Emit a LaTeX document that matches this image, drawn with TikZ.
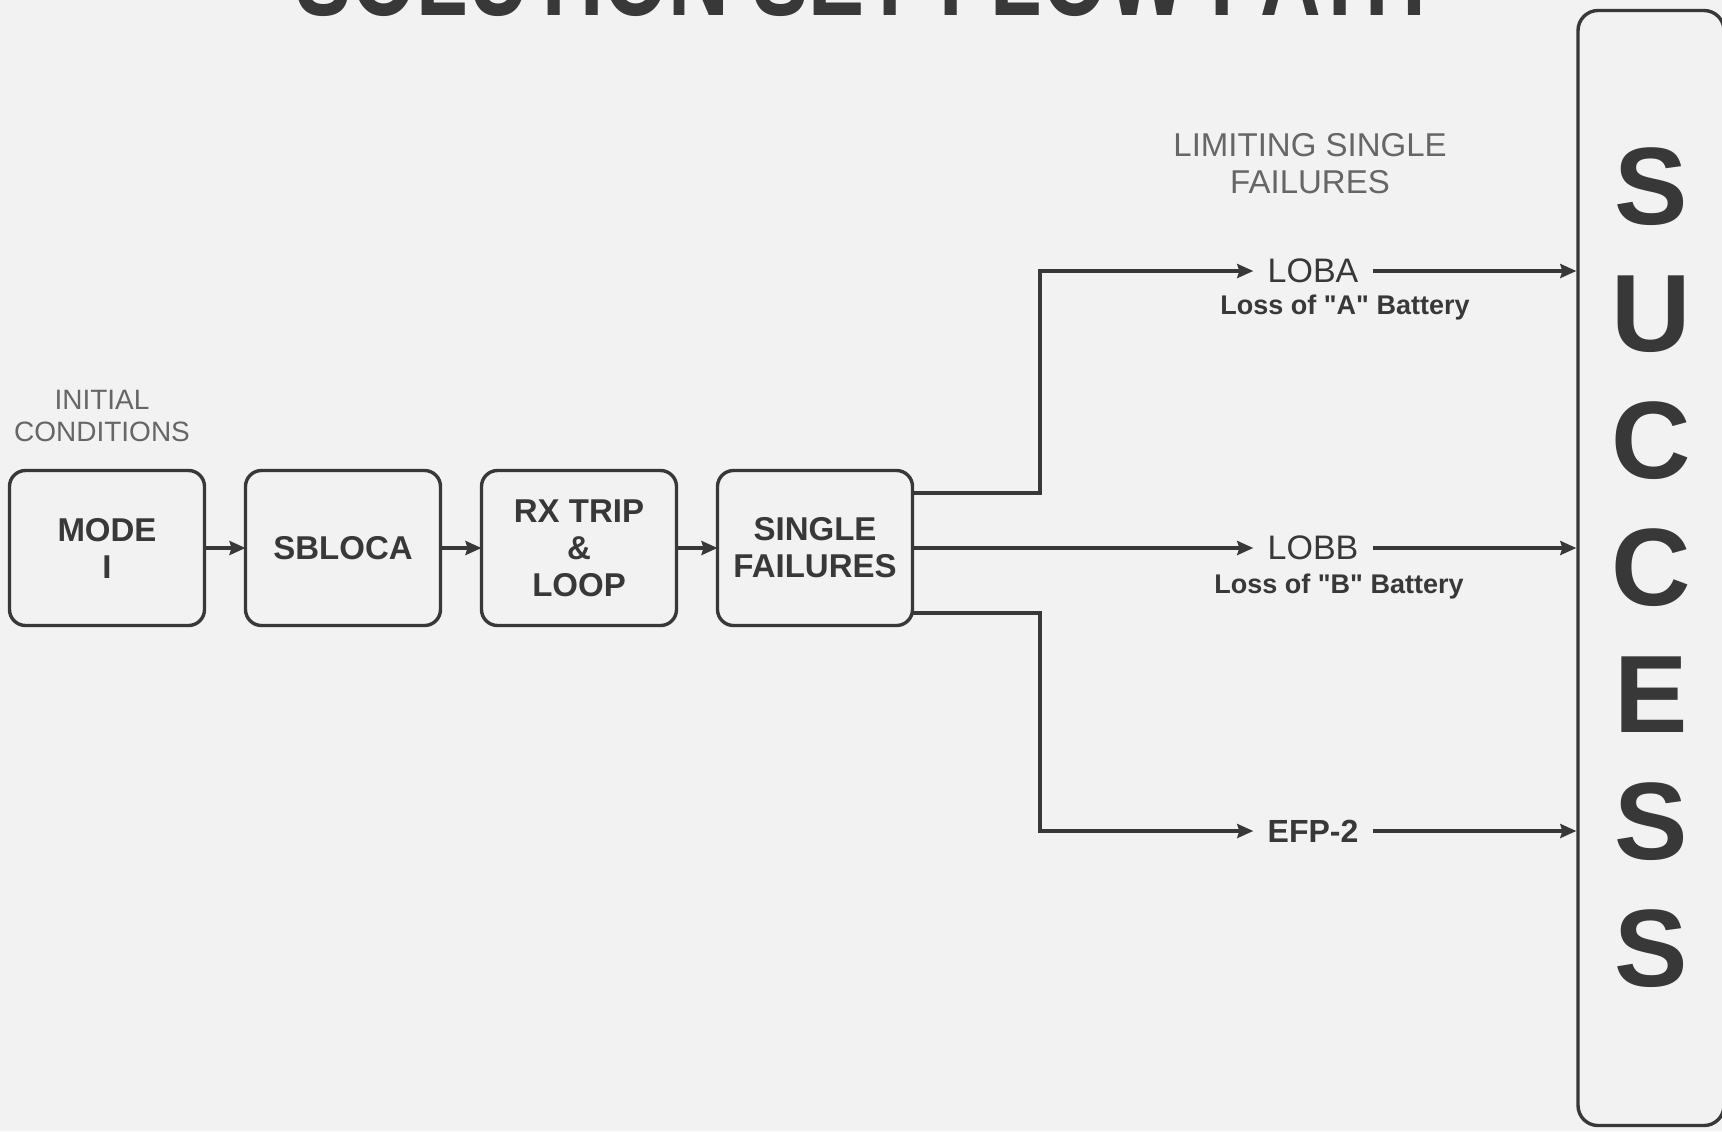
\documentclass[tikz,border=0pt]{standalone}
\usepackage{fontspec}
\setmainfont{Liberation Sans}[Ligatures=TeXOff]
\usepackage{xcolor}
\usepackage{tikz}
\usetikzlibrary{positioning,arrows.meta,calc}
\definecolor{paper}{HTML}{F2F2F2}
\definecolor{ink}{HTML}{383838}
\definecolor{faint}{HTML}{666666}

\begin{document}
\begin{tikzpicture}[
    x=0.5pt, y=-0.5pt,
    node distance=20.5pt,
    block/.style={rectangle, draw=ink, line width=1.7pt, rounded corners=8pt, minimum width=97.5pt, minimum height=77.5pt, align=center, outer sep=0pt, text=ink, font=\bfseries\fontsize{16.5}{18.5}\selectfont},
    note/.style={align=center, text=faint},
    fail/.style={inner xsep=7pt, inner ysep=2pt, text=ink, font=\fontsize{17}{19}\selectfont},
    caption/.style={text=ink, font=\bfseries\fontsize{13.5}{15}\selectfont},
    arrow/.style={-{Stealth[length=8pt, width=7pt, inset=1pt]}, line width=1.6pt, draw=ink},
]
\useasboundingbox (0,0) rectangle (1722,1131);
\clip (0,0) rectangle (1722,1131);
\fill[paper] (0,0) rectangle (1722,1131);

\node[anchor=base, text=ink, font=\bfseries\fontsize{56}{60}\selectfont] (title) at (861,15) {\scalebox{0.75}[1]{SOLUTION SET FLOW PATH}};

\node[block] (mode) at (107,548) {MODE\\I};
\node[block, right=of mode] (sbloca) {SBLOCA};
\node[block, right=of sbloca] (rxtrip) {RX TRIP\\\&\\LOOP};
\node[block, right=of rxtrip] (single) {SINGLE\\FAILURES};

\node[note, font=\fontsize{14}{16}\selectfont] (initial) at (102,416) {INITIAL\\CONDITIONS};
\node[note, font=\fontsize{16.5}{18.5}\selectfont] (limiting) at (1310,164) {LIMITING SINGLE\\FAILURES};

\node[fail] (loba) at (1313,271) {LOBA};
\node[fail] (lobb) at (1313,548) {LOBB};
\node[fail, font=\bfseries\fontsize{16}{18}\selectfont] (efp) at (1313,831) {EFP-2};
\node[caption] (lossa) at (1345,308) {Loss of "A" Battery};
\node[caption] (lossb) at (1339,587) {Loss of "B" Battery};

\node[draw=ink, line width=1.7pt, rounded corners=10pt, minimum width=73pt, minimum height=557.5pt, align=center, text=ink, font=\bfseries\fontsize{55}{63.5}\selectfont] (success) at (1651,568) {S\\U\\C\\C\\E\\S\\S};

\coordinate (split) at (1040,548);
\draw[arrow] (mode) -- (sbloca);
\draw[arrow] (sbloca) -- (rxtrip);
\draw[arrow] (rxtrip) -- (single);
\draw[arrow] ([yshift=27.5pt]single.east) -| (split |- loba) -- (loba);
\draw[arrow] (single) -- (lobb);
\draw[arrow] ([yshift=-32.5pt]single.east) -| (split |- efp) -- (efp);
\draw[arrow] (loba) -- (loba -| success.west);
\draw[arrow] (lobb) -- (lobb -| success.west);
\draw[arrow] (efp) -- (efp -| success.west);
\end{tikzpicture}
\end{document}
